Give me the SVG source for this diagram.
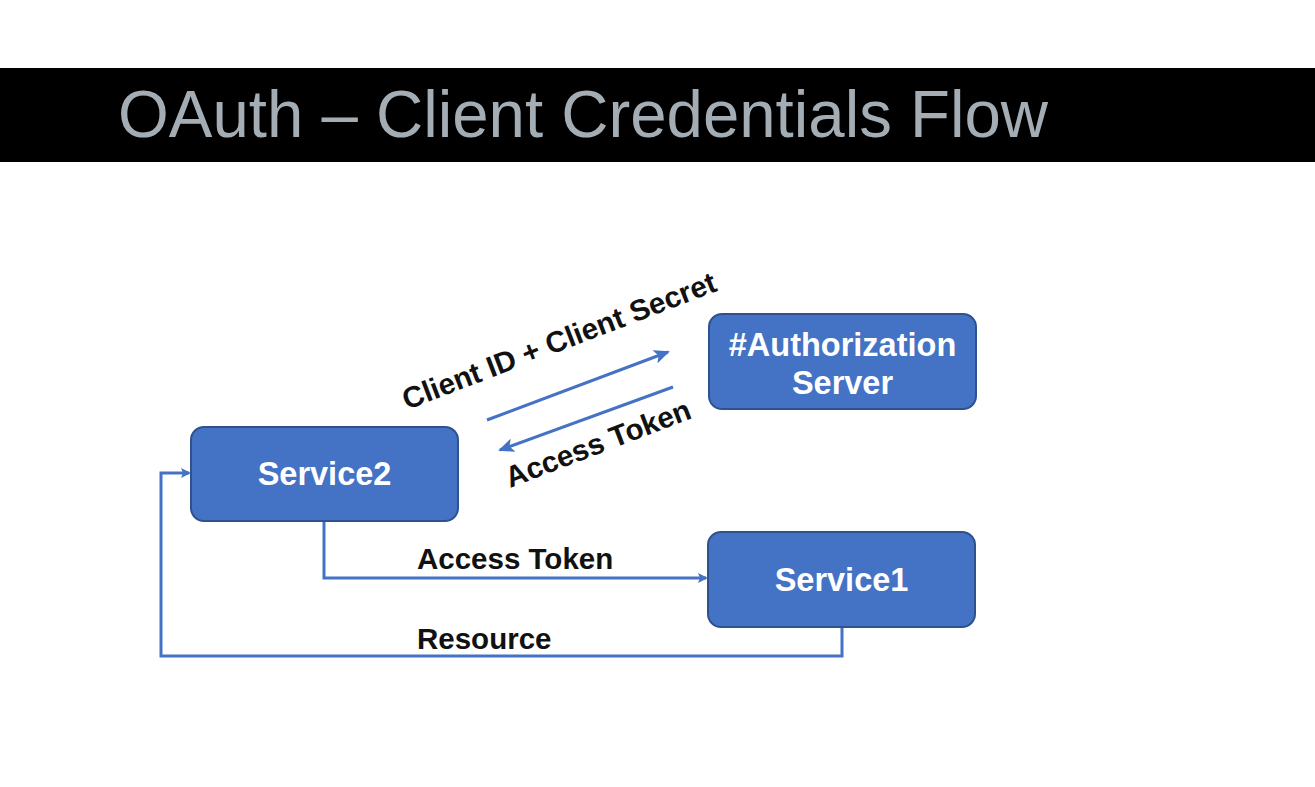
<svg xmlns="http://www.w3.org/2000/svg" width="1315" height="787" viewBox="0 0 1315 787">
<style>
.box{fill:#4472c4;stroke:#2f528f;stroke-width:2}
.bt{font-family:"Liberation Sans",Arial,sans-serif;font-weight:bold;font-size:32.5px;fill:#fff;text-anchor:middle}
.lbl{font-family:"Liberation Sans",Arial,sans-serif;font-weight:bold;font-size:29.5px;fill:#111}
.ln{fill:none;stroke:#4472c4;stroke-width:3}
</style>
<defs>
<marker id="ah" markerWidth="10" markerHeight="10" refX="8" refY="5" orient="auto" markerUnits="userSpaceOnUse"><path d="M0,0 L10,5 L0,10 L2,5 Z" fill="#4472c4"/></marker>
<marker id="ah2" markerWidth="16" markerHeight="14" refX="14" refY="7" orient="auto" markerUnits="userSpaceOnUse"><path d="M0,0 L16,7 L0,14 L4,7 Z" fill="#4472c4"/></marker>
</defs>
<rect x="0" y="0" width="1315" height="787" fill="#fff"/>
<g id="title">
<rect x="0" y="68" width="1315" height="94" fill="#000"/>
<text x="118" y="137" font-family="Liberation Sans,Arial,sans-serif" font-size="67" fill="#a5adb4" textLength="930" lengthAdjust="spacingAndGlyphs">OAuth – Client Credentials Flow</text>
</g>
<g id="connectors">
<line class="ln" x1="487" y1="420" x2="668" y2="352" marker-end="url(#ah2)"/>
<line class="ln" x1="673" y1="387" x2="500" y2="450" marker-end="url(#ah2)"/>
<polyline class="ln" points="324,521 324,578 706,578" marker-end="url(#ah)"/>
<polyline class="ln" points="842,627 842,656 161,656 161,473 189,473" marker-end="url(#ah)"/>
<text class="lbl" transform="translate(407,410) rotate(-21)">Client ID + Client Secret</text>
<text class="lbl" transform="translate(510,488) rotate(-21)">Access Token</text>
<text class="lbl" x="417" y="569">Access Token</text>
<text class="lbl" x="417" y="649">Resource</text>
</g>
<g id="service2">
<rect class="box" x="191" y="427" width="267" height="94" rx="13"/>
<text class="bt" x="324.5" y="485">Service2</text>
</g>
<g id="authserver">
<rect class="box" x="709" y="314" width="267" height="95" rx="13"/>
<text class="bt" x="842.5" y="356">#Authorization</text>
<text class="bt" x="842.5" y="394">Server</text>
</g>
<g id="service1">
<rect class="box" x="708" y="532" width="267" height="95" rx="13"/>
<text class="bt" x="841.5" y="591">Service1</text>
</g>
</svg>
